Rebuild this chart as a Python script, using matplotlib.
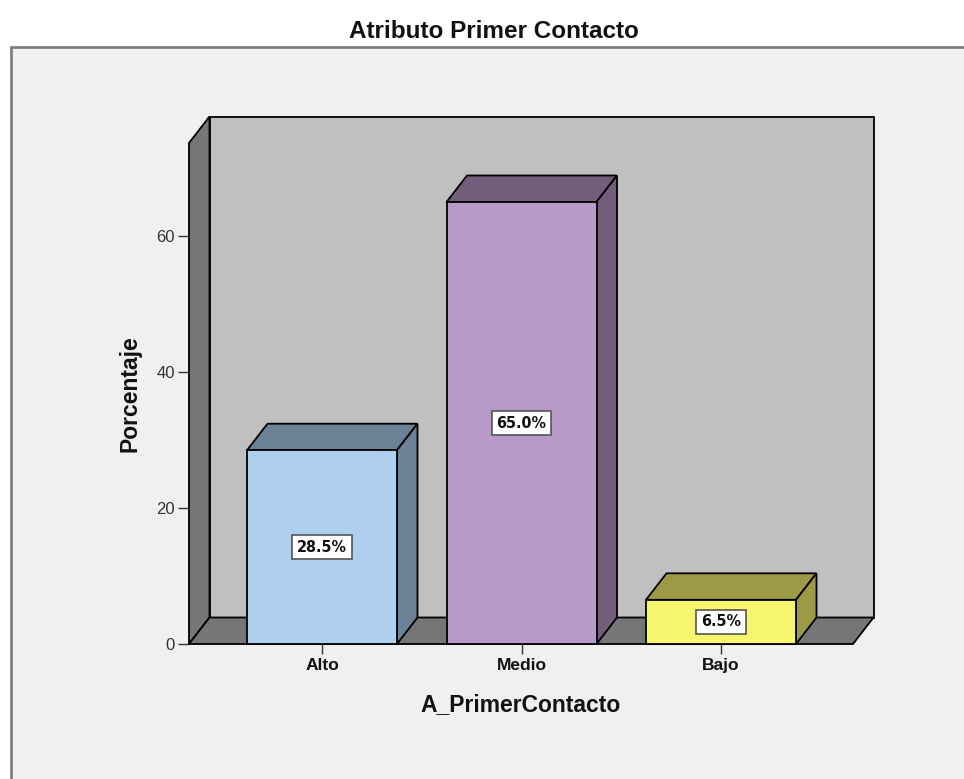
import matplotlib
matplotlib.use("Agg")
import matplotlib.pyplot as plt
from matplotlib.patches import Polygon, Rectangle

# Data
categories = ["Alto", "Medio", "Bajo"]
percentages = [28.5, 65.0, 6.5]
y_ticks = [0, 20, 40, 60]

face_colors = ["#aecfee", "#b89ac8", "#f7f66f"]
shade_colors = ["#6a8196", "#725e7a", "#9d9a45"]

W, H = 964, 779
fig = plt.figure(figsize=(W / 100, H / 100), dpi=100)
fig.patch.set_facecolor("white")

# Outer chart frame
frame = Rectangle((11 / W, -0.05), 1.2, 1 - 47 / H + 0.05, transform=fig.transFigure,
                  facecolor="#f0f0f0", edgecolor="#7f7f7f", lw=2.0, zorder=-5)
fig.patches.append(frame)

# Plot area (front plane)
left_px, right_px, bottom_px, top_px = 189, 853, 644, 143
ax = fig.add_axes([left_px / W, 1 - bottom_px / H,
                   (right_px - left_px) / W, (bottom_px - top_px) / H])
ax.set_facecolor("none")
ax.set_zorder(1)

px_per_unit_y = 6.8
ymax = (bottom_px - top_px) / px_per_unit_y
px_per_cat = 199.5
xmin = -(322 - left_px) / px_per_cat
xmax = (right_px - 322) / px_per_cat
ax.set_xlim(xmin, xmax)
ax.set_ylim(0, ymax)

# depth offset of the 3-D effect, in data units
dx = 20.5 / px_per_cat
dy = 26.5 / px_per_unit_y

edge = dict(edgecolor="black", lw=1.3, joinstyle="miter", clip_on=False)

# Back wall, left wall and floor
ax.add_patch(Polygon([(xmin + dx, dy), (xmax + dx, dy), (xmax + dx, ymax + dy),
                      (xmin + dx, ymax + dy)], facecolor="#c0c0c0", zorder=1, **edge))
ax.add_patch(Polygon([(xmin, 0), (xmin + dx, dy), (xmin + dx, ymax + dy), (xmin, ymax)],
                     facecolor="#767676", zorder=2, **edge))
ax.add_patch(Polygon([(xmin, 0), (xmax, 0), (xmax + dx, dy), (xmin + dx, dy)],
                     facecolor="#767676", zorder=2, **edge))

# Bars
bw = 150 / px_per_cat
for i, (v, fc, sc) in enumerate(zip(percentages, face_colors, shade_colors)):
    x0, x1 = i - bw / 2, i + bw / 2
    ax.add_patch(Polygon([(x0, v), (x1, v), (x1 + dx, v + dy), (x0 + dx, v + dy)],
                         facecolor=sc, zorder=3, **edge))
    ax.add_patch(Polygon([(x1, 0), (x1 + dx, dy), (x1 + dx, v + dy), (x1, v)],
                         facecolor=sc, zorder=3, **edge))
    ax.add_patch(Polygon([(x0, 0), (x1, 0), (x1, v), (x0, v)],
                         facecolor=fc, zorder=4, **edge))
    ax.text(i, v / 2, f"{v:.1f}%", ha="center", va="center", fontsize=11.5,
            fontweight="bold", family="DejaVu Sans", fontstretch="condensed",
            color="#111111", zorder=6,
            bbox=dict(boxstyle="square,pad=0.3", facecolor="white",
                      edgecolor="#555555", lw=1.2))

# Axes styling
for s in ax.spines.values():
    s.set_visible(False)
ax.set_yticks(y_ticks)
ax.set_yticklabels([str(t) for t in y_ticks], fontsize=12,
                   family="Liberation Sans", color="#333333")
ax.set_xticks(range(len(categories)))
ax.set_xticklabels(categories, fontsize=12.5, fontweight="bold",
                   family="Liberation Sans", color="#111111")
ax.tick_params(axis="y", direction="out", length=8, width=1, pad=2, color="#333333")
ax.tick_params(axis="x", direction="out", length=7, width=1, pad=3, color="#333333")

ax.set_ylabel("Porcentaje", fontsize=16.5, fontweight="bold", family="Liberation Sans",
              color="#111111")
ax.yaxis.set_label_coords((130 - left_px) / (right_px - left_px), 0.5)
ax.yaxis.label.set_va("center")
ax.set_xlabel("A_PrimerContacto", fontsize=16.5, fontweight="bold",
              family="Liberation Sans", color="#111111")
ax.xaxis.label.set_va("center")
ax.xaxis.set_label_coords(0.5, -(705 - bottom_px) / (bottom_px - top_px))

fig.text(494 / W, 1 - 31 / H, "Atributo Primer Contacto", ha="center", va="center",
         fontsize=17.5, fontweight="bold", family="Liberation Sans", color="#111111")

fig.savefig("out.png", dpi=100)
